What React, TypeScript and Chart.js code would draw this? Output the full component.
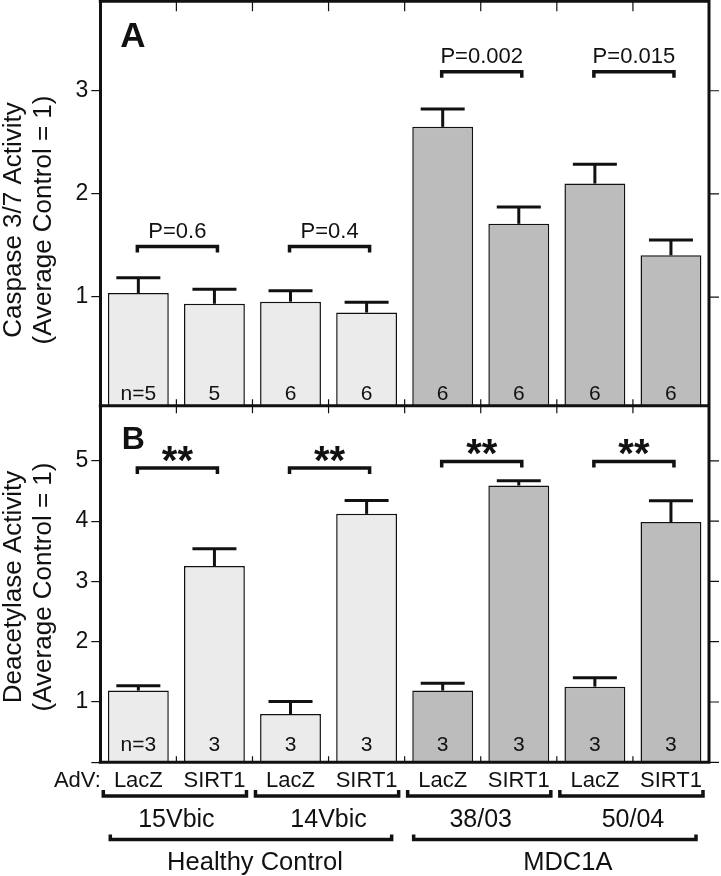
import React, { useEffect, useRef } from 'react';
import { Chart, registerables } from 'chart.js';

Chart.register(...registerables);

const FONT = '"Liberation Sans", Arial, Helvetica, sans-serif';
const INK = '#111111';

// ---- data ----
const categories = [
  '15Vbic LacZ', '15Vbic SIRT1', '14Vbic LacZ', '14Vbic SIRT1',
  '38/03 LacZ', '38/03 SIRT1', '50/04 LacZ', '50/04 SIRT1',
];
const vectorLabels = ['LacZ', 'SIRT1', 'LacZ', 'SIRT1', 'LacZ', 'SIRT1', 'LacZ', 'SIRT1'];
const cellLines = ['15Vbic', '14Vbic', '38/03', '50/04'];
const diseaseGroups = ['Healthy Control', 'MDC1A'];
const barColors = ['#ebebeb', '#ebebeb', '#ebebeb', '#ebebeb', '#bcbcbc', '#bcbcbc', '#bcbcbc', '#bcbcbc'];

const caspaseMean = [1.04, 0.935, 0.955, 0.85, 2.65, 1.71, 2.10, 1.405];
const caspaseErr = [0.148, 0.142, 0.107, 0.10, 0.174, 0.162, 0.187, 0.148];
const caspaseN = ['n=5', '5', '6', '6', '6', '6', '6', '6'];
const caspaseTicks = [1, 2, 3];
const caspaseTests = [
  { from: 0, to: 1, label: 'P=0.6', y: 1.49 },
  { from: 2, to: 3, label: 'P=0.4', y: 1.49 },
  { from: 4, to: 5, label: 'P=0.002', y: 3.185 },
  { from: 6, to: 7, label: 'P=0.015', y: 3.185 },
];

const deacMean = [1.19, 3.255, 0.80, 4.12, 1.19, 4.59, 1.255, 3.985];
const deacErr = [0.078, 0.285, 0.209, 0.22, 0.123, 0.078, 0.149, 0.353];
const deacN = ['n=3', '3', '3', '3', '3', '3', '3', '3'];
const deacTicks = [0, 1, 2, 3, 4, 5];
const deacTests = [
  { from: 0, to: 1, label: '**', y: 4.88 },
  { from: 2, to: 3, label: '**', y: 4.88 },
  { from: 4, to: 5, label: '**', y: 4.99 },
  { from: 6, to: 7, label: '**', y: 4.99 },
];

const caspaseTitle = ['Caspase 3/7 Activity', '(Average Control = 1)'];
const deacTitle = ['Deacetylase Activity', '(Average Control = 1)'];

const A_MIN = -0.053;
const A_MAX = 3.867;
const B_MIN = 0;
const B_MAX = 5.914;

const overlay = {
  id: 'overlay',
  afterDatasetsDraw(chart: any) {
    const ctx: CanvasRenderingContext2D = chart.ctx;
    const x = chart.scales.x;
    const yA = chart.scales.yA;
    const yB = chart.scales.yB;
    const ca = chart.chartArea;
    const n = categories.length;
    const catW = (x.right - x.left) / n;
    const mid = yA.bottom;

    ctx.save();
    ctx.strokeStyle = INK;
    ctx.fillStyle = INK;

    // error bars
    const drawErr = (dsIndex: number, means: number[], errs: number[], scale: any) => {
      const meta = chart.getDatasetMeta(dsIndex);
      meta.data.forEach((bar: any, i: number) => {
        const top = scale.getPixelForValue(means[i]);
        const cap = scale.getPixelForValue(means[i] + errs[i]);
        ctx.lineWidth = 3;
        ctx.lineCap = 'butt';
        ctx.beginPath();
        ctx.moveTo(bar.x, top);
        ctx.lineTo(bar.x, cap);
        ctx.stroke();
        ctx.beginPath();
        ctx.moveTo(bar.x - 22, cap);
        ctx.lineTo(bar.x + 22, cap);
        ctx.stroke();
      });
    };
    drawErr(0, caspaseMean, caspaseErr, yA);
    drawErr(1, deacMean, deacErr, yB);

    // frame
    ctx.lineWidth = 3;
    ctx.lineCap = 'square';
    ctx.beginPath();
    ctx.moveTo(ca.left, ca.top);
    ctx.lineTo(ca.right, ca.top);
    ctx.lineTo(ca.right, ca.bottom);
    ctx.lineTo(ca.left, ca.bottom);
    ctx.moveTo(ca.left, mid);
    ctx.lineTo(ca.right, mid);
    ctx.stroke();

    // right ticks
    ctx.lineWidth = 1.2;
    ctx.lineCap = 'butt';
    ctx.beginPath();
    caspaseTicks.forEach((v) => {
      const py = yA.getPixelForValue(v);
      ctx.moveTo(ca.right, py);
      ctx.lineTo(ca.right + 10, py);
    });
    deacTicks.forEach((v) => {
      const py = yB.getPixelForValue(v);
      ctx.moveTo(ca.right, py);
      ctx.lineTo(ca.right + 10, py);
    });
    // category boundary ticks
    for (let i = 1; i < n; i++) {
      const bx = x.left + i * catW;
      ctx.moveTo(bx, ca.top);
      ctx.lineTo(bx, ca.top + 10);
      ctx.moveTo(bx, mid - 6.5);
      ctx.lineTo(bx, mid + 7.5);
      ctx.moveTo(bx, ca.bottom - 6);
      ctx.lineTo(bx, ca.bottom);
    }
    ctx.stroke();

    // n labels
    ctx.textAlign = 'center';
    ctx.textBaseline = 'alphabetic';
    ctx.font = `21px ${FONT}`;
    for (let i = 0; i < n; i++) {
      const cx = x.getPixelForValue(i);
      ctx.fillText(caspaseN[i], cx, mid - 6);
      ctx.fillText(deacN[i], cx, ca.bottom - 11);
    }

    // brackets
    const bracket = (x1: number, x2: number, y: number, drop: number) => {
      ctx.lineWidth = 3.5;
      ctx.lineCap = 'butt';
      ctx.lineJoin = 'miter';
      ctx.beginPath();
      ctx.moveTo(x1, y + drop);
      ctx.lineTo(x1, y);
      ctx.lineTo(x2, y);
      ctx.lineTo(x2, y + drop);
      ctx.stroke();
    };

    caspaseTests.forEach((t) => {
      const x1 = x.getPixelForValue(t.from) - 1;
      const x2 = x.getPixelForValue(t.to) + 3;
      const y = yA.getPixelForValue(t.y);
      bracket(x1, x2, y, 6);
      ctx.font = `22px ${FONT}`;
      ctx.textAlign = 'center';
      ctx.textBaseline = 'alphabetic';
      ctx.fillText(t.label, (x1 + x2) / 2, y - 9);
    });

    deacTests.forEach((t) => {
      const x1 = x.getPixelForValue(t.from) - 1;
      const x2 = x.getPixelForValue(t.to) + 3;
      const y = yB.getPixelForValue(t.y);
      bracket(x1, x2, y, 6);
      ctx.font = `bold 40px ${FONT}`;
      ctx.textAlign = 'center';
      ctx.textBaseline = 'alphabetic';
      const m = ctx.measureText(t.label);
      const inkBottom = y - 6;
      ctx.fillText(t.label, (x1 + x2) / 2, inkBottom - m.actualBoundingBoxDescent);
    });

    // panel letters
    ctx.textAlign = 'left';
    ctx.font = `bold 35px ${FONT}`;
    ctx.fillText('A', ca.left + 20, ca.top + 45.4);
    ctx.font = `bold 32px ${FONT}`;
    ctx.fillText('B', ca.left + 21.5, mid + 43.6);

    // y titles
    const vtitle = (lines: string[], cy: number) => {
      ctx.font = `26px ${FONT}`;
      ctx.textAlign = 'center';
      ctx.textBaseline = 'alphabetic';
      const bases = [20.6, 50.8];
      lines.forEach((line, k) => {
        ctx.save();
        ctx.translate(bases[k], cy);
        ctx.rotate(-Math.PI / 2);
        ctx.fillText(line, 0, 0);
        ctx.restore();
      });
    };
    vtitle(caspaseTitle, 220);
    vtitle(deacTitle, 587);

    // bottom labels
    const b = ca.bottom;
    ctx.font = `22px ${FONT}`;
    ctx.textAlign = 'right';
    ctx.fillText('AdV:', ca.left + 0.5, b + 24.4);
    ctx.textAlign = 'center';
    for (let i = 0; i < n; i++) {
      ctx.fillText(vectorLabels[i], x.getPixelForValue(i), b + 24.4);
    }
    ctx.font = `25px ${FONT}`;
    for (let p = 0; p < cellLines.length; p++) {
      const l = x.left + 2 * p * catW;
      const r = l + 2 * catW;
      bracket(l + 3, r - 6, b + 33.7, -6);
      ctx.fillText(cellLines[p], (l + r) / 2, b + 64.7);
    }
    ctx.font = `25.5px ${FONT}`;
    const gOff = [[10, -13, 2.5], [9, -13, 11]];
    for (let g = 0; g < diseaseGroups.length; g++) {
      const l = x.left + 4 * g * catW;
      const r = l + 4 * catW;
      bracket(l + gOff[g][0], r + gOff[g][1], b + 77.2, -5);
      ctx.fillText(diseaseGroups[g], (l + r) / 2 + gOff[g][2], b + 107.2);
    }

    ctx.restore();
  },
};

export default function App() {
  const ref = useRef<HTMLCanvasElement>(null);

  useEffect(() => {
    document.body.style.margin = '0';
    const yCommon = (ticksArr: number[]) => ({
      type: 'linear' as const,
      position: 'left' as const,
      stack: 'panels',
      bounds: 'data' as const,
      afterBuildTicks: (s: any) => {
        s.ticks = ticksArr.map((v) => ({ value: v }));
      },
      afterFit: (s: any) => {
        s.width = 100.3;
        s.paddingTop = 0;
        s.paddingBottom = 0;
      },
      ticks: {
        autoSkip: false,
        padding: 3,
        color: INK,
        font: { family: FONT, size: 23 },
        callback: (v: any) => (v === 0 ? '' : String(v)),
      },
      grid: { drawOnChartArea: false, drawTicks: true, tickLength: 9, color: INK, lineWidth: 1.2 },
      border: { display: true, color: INK, width: 3 },
    });

    const chart = new Chart(ref.current as HTMLCanvasElement, {
      type: 'bar',
      data: {
        labels: categories,
        datasets: [
          {
            label: 'Caspase 3/7',
            data: caspaseMean,
            xAxisID: 'x',
            yAxisID: 'yA',
            grouped: false,
            base: A_MIN,
            barPercentage: 0.8,
            categoryPercentage: 1,
            backgroundColor: barColors,
            borderColor: INK,
            borderWidth: 1.5,
          } as any,
          {
            label: 'Deacetylase',
            data: deacMean,
            xAxisID: 'x',
            yAxisID: 'yB',
            grouped: false,
            barPercentage: 0.8,
            categoryPercentage: 1,
            backgroundColor: barColors,
            borderColor: INK,
            borderWidth: 1.5,
          } as any,
        ],
      },
      options: {
        responsive: false,
        animation: false,
        events: [],
        layout: { padding: { left: 0, right: 12, top: 1.3, bottom: 113.7 } },
        plugins: { legend: { display: false }, tooltip: { enabled: false }, title: { display: false } },
        scales: {
          x: { type: 'category', display: false, offset: true },
          yB: { ...yCommon(deacTicks), min: B_MIN, max: B_MAX, stackWeight: 356.6, weight: 1 },
          yA: { ...yCommon(caspaseTicks), min: A_MIN, max: A_MAX, stackWeight: 404.4, weight: 2 },
        } as any,
      },
      plugins: [overlay],
    });
    return () => chart.destroy();
  }, []);

  return (
    <canvas
      ref={ref}
      width={721}
      height={876}
      style={{ display: 'block', width: '721px', height: '876px' }}
    />
  );
}
